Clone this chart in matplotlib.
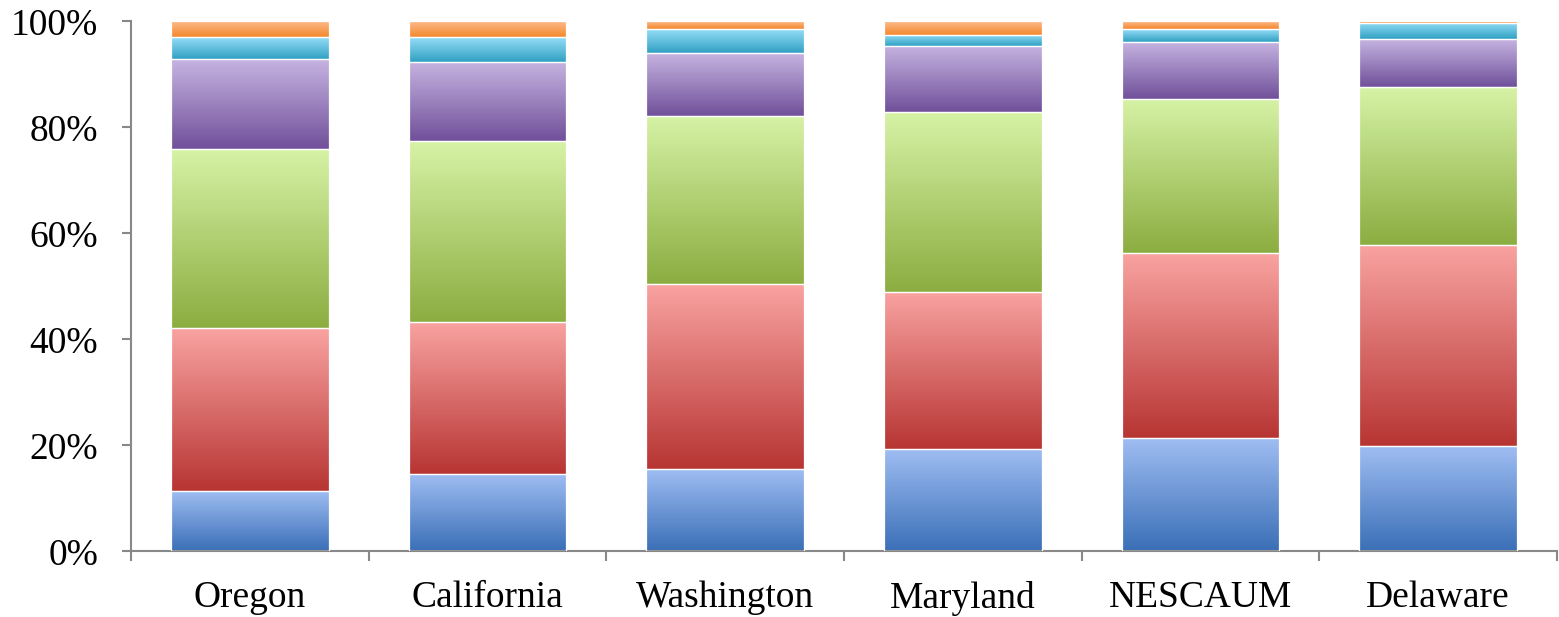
import numpy as np
import matplotlib
matplotlib.use('Agg')
import matplotlib.pyplot as plt
from matplotlib.colors import LinearSegmentedColormap
from matplotlib.ticker import PercentFormatter

states = ['Oregon', 'California', 'Washington', 'Maryland', 'NESCAUM', 'Delaware']

# share of each category per state (%), bottom to top
seg_blue = [11.5, 14.6, 15.5, 19.3, 21.5, 19.9]
seg_red = [30.6, 28.7, 34.9, 29.7, 34.8, 38.0]
seg_green = [33.9, 34.1, 31.8, 33.9, 29.1, 29.7]
seg_purple = [16.9, 15.0, 11.8, 12.5, 10.8, 9.0]
seg_cyan = [4.1, 4.6, 4.5, 2.1, 2.4, 3.1]
seg_orange = [3.0, 3.0, 1.5, 2.5, 1.4, 0.3]

series = [seg_blue, seg_red, seg_green, seg_purple, seg_cyan, seg_orange]

# (dark bottom, light top) for each stacked segment
shades = [
    ('#3a6fb7', '#a0bef3'),
    ('#b73533', '#f9a3a1'),
    ('#8bad40', '#d6f3a6'),
    ('#70509a', '#c6b4e1'),
    ('#30a0c3', '#95def7'),
    ('#f3882c', '#fdbb8c'),
]

plt.rcParams['font.family'] = ['Liberation Serif', 'DejaVu Serif']

fig = plt.figure(figsize=(15.59, 6.17), dpi=100)
ax = fig.add_axes([0.0840, 0.1062, 0.9147, 0.8590])

x = np.arange(len(states))
bottom = np.zeros(len(states))
grad = np.linspace(0, 1, 256).reshape(-1, 1)

for vals, (dark, light) in zip(series, shades):
    vals = np.array(vals)
    bars = ax.bar(x, vals, width=0.664, bottom=bottom, color=light,
                  edgecolor='white', linewidth=0.9, zorder=3)
    cmap = LinearSegmentedColormap.from_list('seg', [dark, light])
    for patch in bars:
        x0, y0 = patch.get_x(), patch.get_y()
        w, h = patch.get_width(), patch.get_height()
        ax.imshow(grad, cmap=cmap, origin='lower', aspect='auto',
                  extent=(x0, x0 + w, y0, y0 + h), zorder=2,
                  interpolation='bilinear')
        patch.set_facecolor('none')
    bottom += vals

ax.set_xlim(-0.5, len(states) - 0.5)
ax.set_ylim(0, 100)

ax.set_yticks(np.arange(0, 101, 20))
ax.yaxis.set_major_formatter(PercentFormatter(decimals=0))
ax.set_xticks(x)
ax.set_xticklabels(states)
ax.set_xticks(np.arange(-0.5, len(states)), minor=True)

spine_col = '#888888'
for side in ['top', 'right']:
    ax.spines[side].set_visible(False)
for side in ['left', 'bottom']:
    ax.spines[side].set_color(spine_col)
    ax.spines[side].set_linewidth(1.5)

ax.tick_params(axis='y', direction='out', length=6.5, width=1.5,
               color=spine_col, labelsize=27, pad=17)
ax.tick_params(axis='x', which='major', length=0, labelsize=27, pad=21)
ax.tick_params(axis='x', which='minor', direction='out', length=7.5,
               width=1.5, color=spine_col)

fig.savefig('out.png', dpi=100)
